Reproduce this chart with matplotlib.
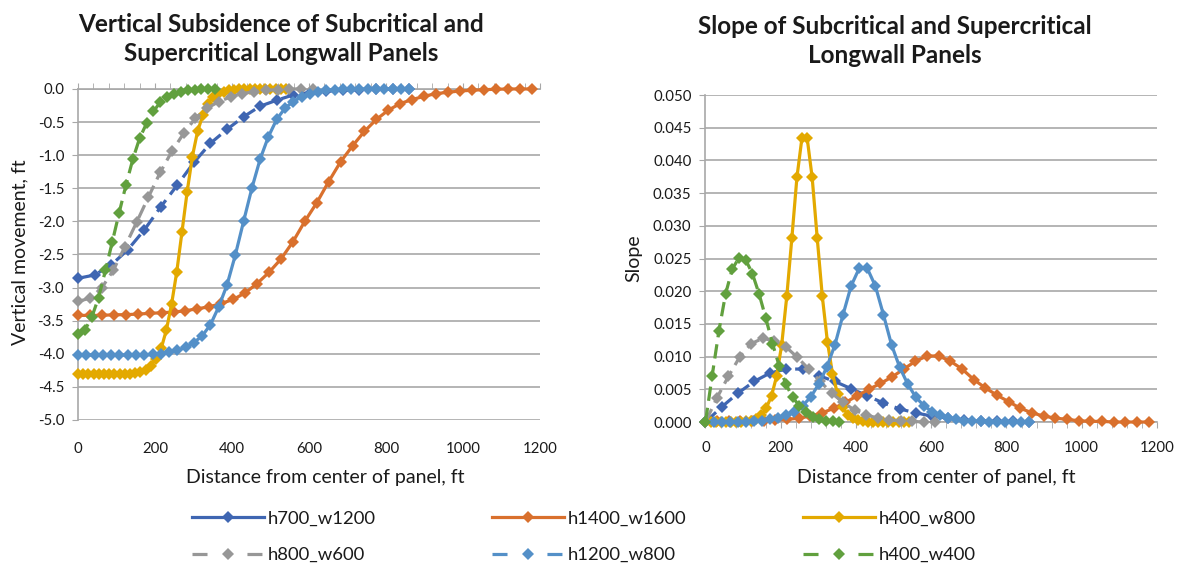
import matplotlib
matplotlib.use("Agg")
import matplotlib.pyplot as plt
from matplotlib.lines import Line2D
from matplotlib.ticker import MultipleLocator, FormatStrFormatter

plt.rcParams['font.family'] = ['Lato', 'DejaVu Sans']
plt.rcParams['axes.unicode_minus'] = False

# ---- data ----
labels = ['h700_w1200', 'h1400_w1600', 'h400_w800', 'h800_w600', 'h1200_w800', 'h400_w400']

x_h700_w1200 = [0, 43, 86, 129, 172, 215, 258, 301, 344, 387, 430, 473, 516, 559, 602, 645,
                688, 731, 774, 817, 860]
x_h1400_w1600 = [0, 31, 62, 93, 124, 155, 186, 217, 248, 279, 310, 341, 372, 403, 434, 465,
                 496, 527, 558, 589, 620, 651, 682, 713, 744, 775, 806, 837, 868, 899, 930,
                 961, 992, 1023, 1054, 1085, 1116, 1147, 1178]
x_h400_w800 = [0, 13.5, 27, 40.5, 54, 67.5, 81, 94.5, 108, 121.5, 135, 148.5, 162, 175.5, 189,
               202.5, 216, 229.5, 243, 256.5, 270, 283.5, 297, 310.5, 324, 337.5, 351, 364.5,
               378, 391.5, 405, 418.5, 432, 445.5, 459, 472.5, 486, 499.5, 513, 526.5, 540]
x_h800_w600 = [0, 30.5, 61, 91.5, 122, 152.5, 183, 213.5, 244, 274.5, 305, 335.5, 366, 396.5,
               427, 457.5, 488, 518.5, 549, 579.5, 610]
x_h1200_w800 = [0, 21.5, 43, 64.5, 86, 107.5, 129, 150.5, 172, 193.5, 215, 236.5, 258, 279.5,
                301, 322.5, 344, 365.5, 387, 408.5, 430, 451.5, 473, 494.5, 516, 537.5, 559,
                580.5, 602, 623.5, 645, 666.5, 688, 709.5, 731, 752.5, 774, 795.5, 817, 838.5, 860]
x_h400_w400 = [0, 17.8, 35.6, 53.4, 71.2, 89, 106.8, 124.6, 142.4, 160.2, 178, 195.8, 213.6,
               231.4, 249.2, 267, 284.8, 302.6, 320.4, 338.2, 356]

# vertical movement, ft
v_h700_w1200 = [-2.86, -2.81, -2.66, -2.43, -2.13, -1.78, -1.45, -1.11, -0.82, -0.61, -0.42,
                -0.26, -0.17, -0.09, -0.055, -0.035, -0.02, -0.01, -0.005, 0.0, 0.0]
v_h1400_w1600 = [-3.42, -3.42, -3.42, -3.41, -3.41, -3.40, -3.39, -3.38, -3.37, -3.35, -3.32,
                 -3.29, -3.24, -3.18, -3.08, -2.94, -2.77, -2.57, -2.31, -2.00, -1.72, -1.40,
                 -1.10, -0.86, -0.64, -0.46, -0.32, -0.22, -0.16, -0.11, -0.07, -0.05, -0.03,
                 -0.02, -0.01, -0.005, 0.0, 0.0, 0.0]
v_h400_w800 = [-4.31, -4.31, -4.31, -4.31, -4.31, -4.31, -4.31, -4.31, -4.31, -4.31, -4.30,
               -4.29, -4.27, -4.24, -4.18, -4.08, -3.92, -3.64, -3.25, -2.76, -2.16, -1.55,
               -1.02, -0.64, -0.40, -0.22, -0.12, -0.07, -0.04, -0.02, -0.01, 0.0, 0.0, 0.0,
               0.0, 0.0, 0.0, 0.0, 0.0, 0.0, 0.0]
v_h800_w600 = [-3.21, -3.16, -3.01, -2.74, -2.38, -2.01, -1.63, -1.26, -0.94, -0.67, -0.44,
               -0.29, -0.19, -0.12, -0.07, -0.04, -0.02, -0.01, 0.0, 0.0, 0.0]
v_h1200_w800 = [-4.02, -4.02, -4.02, -4.02, -4.02, -4.02, -4.02, -4.02, -4.02, -4.01, -4.00,
                -3.98, -3.95, -3.90, -3.83, -3.73, -3.56, -3.29, -2.96, -2.51, -2.00, -1.50,
                -1.06, -0.72, -0.46, -0.29, -0.19, -0.12, -0.07, -0.04, -0.02, -0.01, 0.0,
                0.0, 0.0, 0.0, 0.0, 0.0, 0.0, 0.0, 0.0]
v_h400_w400 = [-3.70, -3.64, -3.45, -3.15, -2.74, -2.31, -1.87, -1.45, -1.06, -0.74, -0.52,
               -0.34, -0.20, -0.12, -0.07, -0.04, -0.02, -0.01, 0.0, 0.0, 0.0]

# slope
s_h700_w1200 = [0, 0.0023, 0.0044, 0.0062, 0.0075, 0.0081, 0.0081, 0.0071, 0.0062, 0.0051,
                0.0040, 0.0029, 0.0020, 0.0014, 0.0009, 0.0006, 0.0003, 0.0002, 0.0001, 0.0001, 0]
s_h1400_w1600 = [0, 0.0001, 0.0001, 0.0001, 0.0002, 0.0002, 0.0003, 0.0004, 0.0006, 0.0009,
                 0.0014, 0.0021, 0.0030, 0.0040, 0.0050, 0.0059, 0.0069, 0.0081, 0.0093, 0.0101,
                 0.0101, 0.0093, 0.0081, 0.0065, 0.0052, 0.0041, 0.0031, 0.0021, 0.0014, 0.0009,
                 0.0006, 0.0004, 0.0002, 0.0001, 0.0001, 0, 0, 0, 0]
s_h400_w800 = [0, 0, 0, 0, 0, 0, 0, 0, 0.0001, 0.0002, 0.0005, 0.0011, 0.0022, 0.0040, 0.0070,
               0.0118, 0.0192, 0.0281, 0.0374, 0.0435, 0.0435, 0.0374, 0.0281, 0.0192, 0.0123,
               0.0074, 0.0043, 0.0023, 0.0011, 0.0006, 0.0003, 0.0001, 0, 0, 0, 0, 0, 0, 0, 0, 0]
s_h800_w600 = [0, 0.0037, 0.0070, 0.0100, 0.0120, 0.0128, 0.0124, 0.0115, 0.0099, 0.0081,
               0.0062, 0.0044, 0.0030, 0.0018, 0.0011, 0.0006, 0.0003, 0.0002, 0.0001, 0, 0]
s_h1200_w800 = [0, 0, 0, 0, 0, 0, 0.0001, 0.0002, 0.0004, 0.0006, 0.0010, 0.0016, 0.0025,
                0.0038, 0.0058, 0.0084, 0.0118, 0.0164, 0.0208, 0.0235, 0.0235, 0.0208, 0.0164,
                0.0118, 0.0084, 0.0058, 0.0038, 0.0025, 0.0016, 0.0010, 0.0006, 0.0004, 0.0002,
                0.0001, 0.0001, 0, 0, 0, 0, 0, 0]
s_h400_w400 = [0, 0.0071, 0.0139, 0.0196, 0.0234, 0.0251, 0.0248, 0.0227, 0.0196, 0.0159,
               0.0120, 0.0086, 0.0058, 0.0038, 0.0025, 0.0015, 0.0008, 0.0004, 0.0002, 0.0001, 0]

xs = [x_h700_w1200, x_h1400_w1600, x_h400_w800, x_h800_w600, x_h1200_w800, x_h400_w400]
vs = [v_h700_w1200, v_h1400_w1600, v_h400_w800, v_h800_w600, v_h1200_w800, v_h400_w400]
ss = [s_h700_w1200, s_h1400_w1600, s_h400_w800, s_h800_w600, s_h1200_w800, s_h400_w400]

colors = ['#3F66B2', '#D9702D', '#E3A900', '#979797', '#5490C8', '#61A03E']
# line styles as drawn in the plots
plot_ls = ['--', '-', '-', '--', '-', '--']
# line styles as shown in the legend
legend_ls = ['-', '-', '-', '--', '--', '--']

grid_c = '#A8A8A8'
text_c = '#1A1A1A'

fig = plt.figure(figsize=(11.77, 5.70), dpi=100)
ax1 = fig.add_axes([0.0663, 0.2632, 0.3925, 0.5807])
ax2 = fig.add_axes([0.5994, 0.2596, 0.3836, 0.5737])

def draw(ax, ys):
    for x, y, c, ls in zip(xs, ys, colors, plot_ls):
        line, = ax.plot(x, y, color=c, lw=2.3, ls=ls, marker='D', ms=6.5,
                        markeredgewidth=0, clip_on=False, zorder=3)
        if ls == '--':
            line.set_dashes((4.5, 2.2))

draw(ax1, vs)
draw(ax2, ss)

# left chart
ax1.set_xlim(0, 1200)
ax1.set_ylim(-5.0, 0.0)
ax1.xaxis.set_major_locator(MultipleLocator(200))
ax1.xaxis.set_minor_locator(MultipleLocator(40))
ax1.yaxis.set_major_locator(MultipleLocator(0.5))
ax1.yaxis.set_major_formatter(FormatStrFormatter('%.1f'))
ax1.tick_params(axis='x', which='both', bottom=False, top=True, labelbottom=True,
                labeltop=False, direction='out', length=4, color=grid_c, pad=12)
ax1.tick_params(axis='y', length=4, color=grid_c, pad=6)
for sp in ['bottom', 'right']:
    ax1.spines[sp].set_visible(False)
for sp in ['top', 'left']:
    ax1.spines[sp].set_color(grid_c)
    ax1.spines[sp].set_linewidth(1.2)

# right chart
ax2.set_xlim(0, 1200)
ax2.set_ylim(0, 0.05)
ax2.xaxis.set_major_locator(MultipleLocator(200))
ax2.xaxis.set_minor_locator(MultipleLocator(40))
ax2.yaxis.set_major_locator(MultipleLocator(0.005))
ax2.yaxis.set_major_formatter(FormatStrFormatter('%.3f'))
ax2.tick_params(axis='x', which='both', direction='out', length=4, color=grid_c, pad=10)
ax2.tick_params(axis='y', length=4, color=grid_c, pad=6)
for sp in ['top', 'right']:
    ax2.spines[sp].set_visible(False)
for sp in ['bottom', 'left']:
    ax2.spines[sp].set_color(grid_c)
    ax2.spines[sp].set_linewidth(1.2)

for ax in (ax1, ax2):
    ax.grid(axis='y', color=grid_c, lw=1.2)
    ax.set_axisbelow(True)
    for lab in ax.get_xticklabels() + ax.get_yticklabels():
        lab.set_fontsize(10.8)
        lab.set_color(text_c)

# titles and axis labels
fig.text(281 / 1177, 1 - 39 / 570,
         'Vertical Subsidence of Subcritical and\nSupercritical Longwall Panels',
         ha='center', va='center', fontsize=17.5, fontweight='bold', color=text_c,
         linespacing=1.35)
fig.text(895 / 1177, 1 - 41 / 570,
         'Slope of Subcritical and Supercritical\nLongwall Panels',
         ha='center', va='center', fontsize=17.5, fontweight='bold', color=text_c,
         linespacing=1.35)
fig.text(325 / 1177, 1 - 477 / 570, 'Distance from center of panel, ft',
         ha='center', va='center', fontsize=14, color=text_c)
fig.text(936 / 1177, 1 - 477 / 570, 'Distance from center of panel, ft',
         ha='center', va='center', fontsize=14, color=text_c)
fig.text(20 / 1177, 1 - 252 / 570, 'Vertical movement, ft', rotation=90,
         ha='center', va='center', fontsize=14, color=text_c)
fig.text(634 / 1177, 1 - 258 / 570, 'Slope', rotation=90,
         ha='center', va='center', fontsize=14, color=text_c)

# legend (styles as shown in the reference legend)
handles = []
for c, ls, lab in zip(colors, legend_ls, labels):
    h = Line2D([], [], color=c, lw=2.3, ls=ls, marker='D', ms=6.5, markeredgewidth=0,
               label=lab)
    if ls == '--':
        h.set_dashes((4.7, 12.5))
    handles.append(h)
order = [0, 3, 1, 4, 2, 5]
fig.legend([handles[i] for i in order], [labels[i] for i in order],
           loc='center', bbox_to_anchor=(0.4962, 1 - 537 / 570), ncol=3, frameon=False,
           fontsize=13.3, handlelength=3.9, handletextpad=0.2, columnspacing=6.3,
           labelspacing=1.1, labelcolor=text_c)

fig.savefig('out.png', dpi=100)
